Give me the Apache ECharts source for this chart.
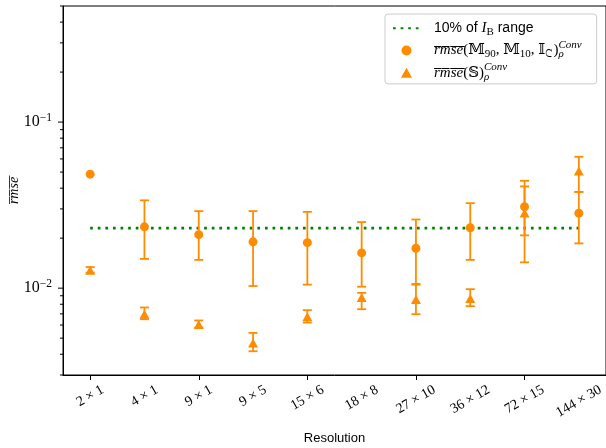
<!DOCTYPE html>
<html>
<head>
<meta charset="utf-8">
<script src="https://cdn.jsdelivr.net/npm/echarts@6/dist/echarts.min.js"></script>
<style>
  html, body { margin: 0; padding: 0; background: #fff; }
  #chart { width: 606px; height: 448px; }
</style>
</head>
<body>
<div id="chart"></div>
<script>
// Grid resolutions on the x axis
const resolutions = ['2 × 1', '4 × 1', '9 × 1', '9 × 5', '15 × 6', '18 × 8', '27 × 10', '36 × 12', '72 × 15', '144 × 30'];

// Mean RMSE for (M90, M10, I_C) with error-bar bounds
const rmseM     = [0.0486, 0.0234, 0.0210, 0.0190, 0.0188, 0.0163, 0.0174, 0.0231, 0.0309, 0.0283];
const rmseMLow  = [null,   0.0150, 0.0148, 0.0103, 0.0105, 0.0102, 0.0106, 0.0148, 0.0143, 0.0186];
const rmseMHigh = [null,   0.0338, 0.0291, 0.0291, 0.0288, 0.0250, 0.0259, 0.0325, 0.0443, 0.0380];

// Mean RMSE for S with error-bar bounds
const rmseS     = [0.0128, 0.00697, 0.00605, 0.00467, 0.00672, 0.00879, 0.00855, 0.00867, 0.0284, 0.0507];
const rmseSLow  = [0.0124, 0.00650, 0.00580, 0.00417, 0.00621, 0.00747, 0.00697, 0.00779, 0.0208, 0.0380];
const rmseSHigh = [0.0134, 0.00765, 0.00639, 0.00538, 0.00737, 0.00937, 0.01050, 0.00986, 0.0410, 0.0618];

// Reference level: 10% of the I_B range
const ibRange10 = 0.023;

// Log y axis extent and tick positions
const yMin = 0.003, yMax = 0.5;
const yMajorTicks = [0.01, 0.1];
const yMinorTicks = [0.003, 0.004, 0.005, 0.006, 0.007, 0.008, 0.009,
                     0.02, 0.03, 0.04, 0.05, 0.06, 0.07, 0.08, 0.09,
                     0.2, 0.3, 0.4, 0.5];

const orange = '#ff8c00';
const green = '#008000';
const serif = '"Liberation Serif", "DejaVu Serif", serif';
const mathFam = '"Liberation Serif", "DejaVu Serif", "DejaVu Sans", serif';
const sans = '"Liberation Sans", "DejaVu Sans", sans-serif';
const overlined = s => s.split('').map(c => c + '\u0305').join('');

const chart = echarts.init(document.getElementById('chart'), null, { renderer: 'canvas' });

const measureCtx = document.createElement('canvas').getContext('2d');
const xLabelSize = 14;

function errorBars(low, high, z) {
  const data = [];
  low.forEach((lo, i) => { if (lo != null) data.push([i, lo, high[i]]); });
  return {
    type: 'custom', silent: true, clip: false, z,
    data,
    encode: { x: 0, y: [1, 2] },
    renderItem(params, api) {
      const i = api.value(0);
      const top = api.coord([i, api.value(2)]);
      const bot = api.coord([i, api.value(1)]);
      const c = 4.5;
      const st = { stroke: orange, lineWidth: 1.8 };
      return {
        type: 'group',
        children: [
          { type: 'line', shape: { x1: top[0], y1: top[1], x2: bot[0], y2: bot[1] }, style: st },
          { type: 'line', shape: { x1: top[0] - c, y1: top[1], x2: top[0] + c, y2: top[1] }, style: st },
          { type: 'line', shape: { x1: bot[0] - c, y1: bot[1], x2: bot[0] + c, y2: bot[1] }, style: st }
        ]
      };
    }
  };
}

const legendText = {
  ibRange: '{gap| }{t|10% of }{mi|I}{sub|B}{t| range}',
  rmseM: '{gap| }{mi|' + overlined('rmse') + '}{m|(𝕄}{sub|90}{m|, 𝕄}{sub|10}{m|, 𝕀}{sub|𝙲}{m|)}{subz|ρ}{sup|Conv}',
  rmseS: '{gap| }{mi|' + overlined('rmse') + '}{m|(𝕊)}{subz|ρ}{sup|Conv}'
};

const LH = 22.3;
const option = {
  animation: false,
  backgroundColor: '#ffffff',
  grid: {
    left: 63, right: 0, top: 6, bottom: 73,
    containLabel: false, outerBoundsMode: 'none',
    show: true, borderColor: '#000', borderWidth: 1, backgroundColor: 'transparent'
  },
  legend: {
    orient: 'vertical',
    left: 385, top: 14,
    padding: [3, 15, 0, 7],
    itemGap: 0,
    itemWidth: 27, itemHeight: 10,
    symbolKeepAspect: true,
    backgroundColor: 'rgba(255,255,255,0.85)',
    borderColor: '#cccccc', borderWidth: 1, borderRadius: 3,
    selectedMode: false,
    data: [
      { name: 'ibRange', itemStyle: { color: 'rgba(0,0,0,0)', borderWidth: 0 } },
      { name: 'rmseM', icon: 'circle' },
      { name: 'rmseS', icon: 'path://M5,0 L10,9 L0,9 Z' }
    ],
    formatter: name => legendText[name],
    textStyle: {
      color: '#000',
      lineHeight: LH,
      rich: {
        gap: { width: 9, lineHeight: LH },
        t: { fontFamily: sans, fontSize: 14, lineHeight: LH },
        mi: { fontFamily: serif, fontStyle: 'italic', fontSize: 15, lineHeight: LH },
        m: { fontFamily: mathFam, fontSize: 15, lineHeight: LH },
        sub: { fontFamily: mathFam, fontSize: 11, padding: [7, 0, 0, 0], lineHeight: LH },
        subz: { fontFamily: mathFam, fontStyle: 'italic', fontSize: 11, padding: [8, 0, 0, 0], width: 0, lineHeight: LH },
        sup: { fontFamily: serif, fontStyle: 'italic', fontSize: 11, padding: [0, 0, 11, 0], lineHeight: LH }
      }
    }
  },
  xAxis: {
    type: 'category',
    data: resolutions,
    boundaryGap: true,
    name: 'Resolution',
    nameLocation: 'middle',
    nameGap: 57,
    nameTextStyle: { fontFamily: sans, fontSize: 13, color: '#000' },
    axisLine: { show: true, lineStyle: { color: '#000', width: 1 } },
    axisTick: { show: true, alignWithLabel: true, length: 5, lineStyle: { color: '#000', width: 1 } },
    axisLabel: { show: false },
    splitLine: { show: false }
  },
  yAxis: {
    type: 'log',
    logBase: 10,
    min: yMin, max: yMax,
    name: overlined('rmse'),
    nameLocation: 'middle',
    nameRotate: 90,
    nameGap: 42,
    nameMoveOverlap: false,
    nameTextStyle: { fontFamily: serif, fontStyle: 'italic', fontSize: 14, color: '#000' },
    axisLine: { show: true, lineStyle: { color: '#000', width: 1 } },
    axisTick: { show: false },
    splitLine: { show: false },
    axisLabel: {
      margin: 11,
      color: '#000',
      formatter: v => {
        const e = Math.round(Math.log10(v));
        if (Math.abs(Math.log10(v) - e) > 1e-6) return '';
        return '{b|10}{s|' + (e < 0 ? '−' : '') + Math.abs(e) + '}';
      },
      rich: {
        b: { fontFamily: serif, fontSize: 16, lineHeight: 22 },
        s: { fontFamily: serif, fontSize: 11.5, padding: [0, 0, 9, 0], lineHeight: 22 }
      }
    }
  },
  series: [
    {
      name: 'ibRange', type: 'line', z: 2,
      data: resolutions.map(() => ibRange10),
      symbol: 'none', showSymbol: false, silent: true,
      lineStyle: { color: green, width: 2.7, type: [2.7, 4.9], cap: 'butt' },
      itemStyle: { color: green }
    },
    errorBars(rmseSLow, rmseSHigh, 3),
    {
      name: 'rmseS', type: 'scatter', z: 4,
      data: rmseS, symbol: 'triangle', symbolSize: [10, 9],
      itemStyle: { color: orange, opacity: 1 }, silent: true
    },
    errorBars(rmseMLow, rmseMHigh, 5),
    {
      name: 'rmseM', type: 'scatter', z: 6,
      data: rmseM, symbol: 'circle', symbolSize: 9,
      itemStyle: { color: orange, opacity: 1 }, silent: true
    },
    // y-axis major and minor tick marks
    {
      type: 'custom', silent: true, clip: false, z: 7,
      data: yMajorTicks.map(v => [0, v, 1]).concat(yMinorTicks.map(v => [0, v, 0])),
      encode: { x: 0, y: 1 },
      renderItem(params, api) {
        const y = api.coord([0, api.value(1)])[1];
        const x = params.coordSys.x;
        const len = api.value(2) ? 5 : 3;
        return { type: 'line', shape: { x1: x - len, y1: y, x2: x, y2: y }, style: { stroke: '#000', lineWidth: 1 } };
      }
    },
    // rotated category labels under the x axis
    {
      type: 'custom', silent: true, clip: false, z: 7,
      data: resolutions.map((r, i) => [i, yMin]),
      encode: { x: 0, y: 1 },
      renderItem(params, api) {
        const i = api.value(0);
        const p = api.coord([i, yMin]);
        const text = resolutions[i];
        measureCtx.font = xLabelSize + 'px ' + serif;
        const w = measureCtx.measureText(text).width;
        const h = xLabelSize * 0.8;
        const rot = Math.PI / 6;
        const cy = p[1] + 9 + (w * Math.sin(rot) + h * Math.cos(rot)) / 2;
        return {
          type: 'text', x: p[0], y: cy, rotation: rot,
          style: { text, fontFamily: serif, fontSize: xLabelSize, fill: '#000', align: 'center', verticalAlign: 'middle' }
        };
      }
    }
  ]
};

chart.setOption(option);
</script>
</body>
</html>
